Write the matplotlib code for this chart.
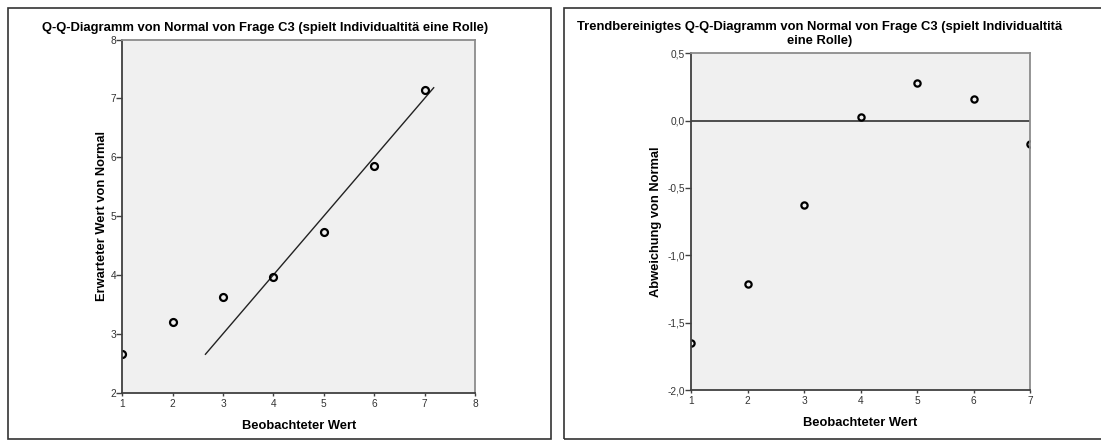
import numpy as np
import matplotlib
matplotlib.use("Agg")
import matplotlib.pyplot as plt
from matplotlib.patches import Rectangle
from matplotlib.ticker import FuncFormatter

plt.rcParams['font.family'] = ['Liberation Sans', 'DejaVu Sans']

# Q-Q-Daten
beobachtet = [1, 2, 3, 4, 5, 6, 7]
erwartet = [2.65, 3.20, 3.63, 3.97, 4.72, 5.85, 7.15]
# Trendbereinigt: beobachtet - erwartet
abweichung = [-1.65, -1.21, -0.63, 0.03, 0.28, 0.16, -0.17]
# Referenzlinie y = x
linie = [2.65, 7.18]

titel_links = 'Q-Q-Diagramm von Normal von Frage C3 (spielt Individualtitä eine Rolle)'
titel_rechts = 'Trendbereinigtes Q-Q-Diagramm von Normal von Frage C3 (spielt Individualtitä\neine Rolle)'

W, H = 1101, 440
fig = plt.figure(figsize=(W / 100, H / 100), dpi=100)
fig.patch.set_facecolor('white')


def px_axes(x0, y0, x1, y1):
    return fig.add_axes([x0 / W, 1 - y1 / H, (x1 - x0) / W, (y1 - y0) / H])


def style(ax):
    ax.set_facecolor('#f0f0f0')
    for s in ['left', 'bottom']:
        ax.spines[s].set_color('#404040')
        ax.spines[s].set_linewidth(1.3)
    for s in ['top', 'right']:
        ax.spines[s].set_color('#8c8c8c')
        ax.spines[s].set_linewidth(1.3)
    ax.tick_params(direction='out', length=4, width=1, color='#404040',
                   labelsize=7.3, labelcolor='#333333', pad=0.5)
    ax.tick_params(axis='x', length=2, pad=2.5)


# Rahmen um die beiden Diagramme
for (x0, y0, x1, y1) in [(7.5, 8, 550.5, 439), (564, 8, 1105, 439)]:
    fig.patches.append(Rectangle((x0 / W, 1 - y1 / H), (x1 - x0) / W, (y1 - y0) / H,
                                 transform=fig.transFigure, fill=False,
                                 edgecolor='#333333', linewidth=1.2))

# linkes Diagramm
ax1 = px_axes(122.3, 39.5, 475, 392.5)
style(ax1)
ax1.plot(linie, linie, color='#222222', lw=1)
ax1.plot(beobachtet, erwartet, 'o', mfc='none', mec='black', mew=1.6, ms=5)
ax1.set_xlim(1, 8)
ax1.set_ylim(2, 8)
ax1.set_xticks(range(1, 9))
ax1.set_yticks(range(2, 9))
ax1.set_xlabel('Beobachteter Wert', fontsize=9.3, fontweight='bold', labelpad=8)
ax1.set_ylabel('Erwarteter Wert von Normal', fontsize=9.3, fontweight='bold', labelpad=2)
fig.text(265 / W, 1 - 28 / H, titel_links, ha='center', va='center',
         fontsize=9.4, fontweight='bold')

# rechtes Diagramm
ax2 = px_axes(691, 53.3, 1030, 390)
style(ax2)
ax2.axhline(0, color='#404040', lw=1.3)
ax2.plot(beobachtet, abweichung, 'o', mfc='none', mec='black', mew=1.6, ms=4.5)
ax2.set_xlim(1, 7)
ax2.set_ylim(-2.0, 0.5)
ax2.set_xticks(range(1, 8))
ax2.set_yticks(np.arange(-2.0, 0.51, 0.5))
ax2.yaxis.set_major_formatter(FuncFormatter(lambda v, p: f'{v:.1f}'.replace('.', ',').replace('-0,0', '0,0')))
ax2.set_xlabel('Beobachteter Wert', fontsize=9.3, fontweight='bold', labelpad=8)
ax2.set_ylabel('Abweichung von Normal', fontsize=9.3, fontweight='bold', labelpad=4)
fig.text(820 / W, 1 - 34 / H, titel_rechts, ha='center', va='center',
         fontsize=9.4, fontweight='bold', linespacing=1.2)

fig.savefig('out.png', dpi=100)
